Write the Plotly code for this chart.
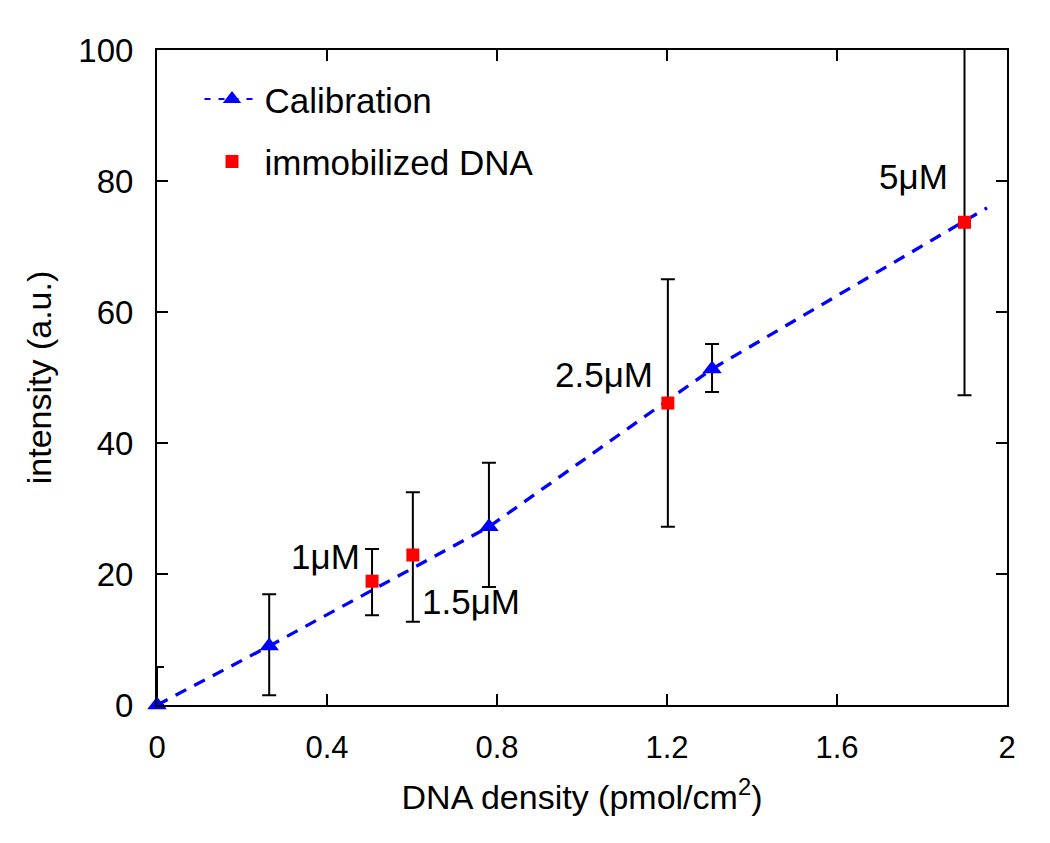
import plotly.graph_objects as go

# Calibration data
cal_x = [0.0, 0.264, 0.781, 1.306]
cal_y = [0.0, 9.0, 27.2, 51.3]
cal_err_plus = [5.8, 7.9, 9.8, 3.8]
cal_err_minus = [0.0, 7.5, 9.2, 3.5]
# calibration fit line (extends beyond last point)
line_x = [0.0, 0.264, 0.781, 1.306, 1.953]
line_y = [0.0, 9.0, 27.2, 51.3, 75.9]

# Immobilized DNA data
dna_x = [0.506, 0.602, 1.202, 1.900]
dna_y = [18.9, 22.9, 46.1, 73.7]
dna_err_plus = [4.9, 9.6, 18.9, 26.5]
dna_err_minus = [5.2, 10.2, 18.9, 26.4]
dna_labels = ["1μM", "1.5μM", "2.5μM", "5μM"]

x_ticks = [0, 0.4, 0.8, 1.2, 1.6, 2]
x_ticktext = ["0", "0.4", "0.8", "1.2", "1.6", "2"]
y_ticks = [0, 20, 40, 60, 80, 100]

FONT = "Liberation Sans, Arial, sans-serif"
BLUE = "#0000ff"
RED = "#ff0000"

fig = go.Figure()

fig.add_trace(go.Scatter(
    x=line_x, y=line_y, mode="lines",
    line=dict(color=BLUE, width=3.3, dash="12px,9px"),
    showlegend=False, hoverinfo="skip",
))
fig.add_trace(go.Scatter(
    x=cal_x, y=cal_y, mode="markers",
    marker=dict(symbol="triangle-up", size=17, color=BLUE),
    error_y=dict(type="data", symmetric=False, array=cal_err_plus,
                 arrayminus=cal_err_minus, color="black", thickness=2, width=7),
    showlegend=False, cliponaxis=False,
))
fig.add_trace(go.Scatter(
    x=dna_x, y=dna_y, mode="markers",
    marker=dict(symbol="square", size=13, color=RED),
    error_y=dict(type="data", symmetric=False, array=dna_err_plus,
                 arrayminus=dna_err_minus, color="black", thickness=2, width=7),
    showlegend=False, cliponaxis=False,
))
# legend entries
fig.add_trace(go.Scatter(
    x=[None], y=[None], mode="lines+markers", name="Calibration", legendgroup="a",
    line=dict(color=BLUE, width=2, dash="6px,8px"),
    marker=dict(symbol="triangle-up", size=17, color=BLUE),
))
fig.add_trace(go.Scatter(
    x=[None], y=[None], mode="markers", name="immobilized DNA", legendgroup="b",
    marker=dict(symbol="square", size=13, color=RED),
))

label_shifts = [(-10, 25, "right"), (7, -46, "left"), (-13, 29, "right"), (-15, 46, "right")]
for x, y, t, (dx, dy, anc) in zip(dna_x, dna_y, dna_labels, label_shifts):
    fig.add_annotation(x=x, y=y, text=t, showarrow=False, xanchor=anc, yanchor="middle",
                       xshift=dx, yshift=dy, font=dict(family=FONT, size=35, color="black"))

axis_common = dict(showline=True, linecolor="black", linewidth=2, mirror="ticks",
                   ticks="inside", ticklen=11, tickwidth=2, tickcolor="black",
                   showgrid=False, zeroline=False)

fig.update_xaxes(range=[0, 2], tickvals=x_ticks, ticktext=x_ticktext,
                 tickfont=dict(family=FONT, size=31, color="black"),
                 ticklabelstandoff=14,
                 title=dict(text="DNA density (pmol/cm<sup>2</sup>)",
                            font=dict(family=FONT, size=34, color="black"), standoff=21),
                 **axis_common)
fig.update_yaxes(range=[0, 100], tickvals=y_ticks,
                 tickfont=dict(family=FONT, size=33, color="black"),
                 ticklabelstandoff=15,
                 title=dict(text="intensity (a.u.)",
                            font=dict(family=FONT, size=34, color="black"), standoff=16),
                 **axis_common)

fig.update_layout(
    width=1042, height=835,
    margin=dict(l=149, r=43, t=42, b=138),
    paper_bgcolor="white", plot_bgcolor="white",
    font=dict(family=FONT, color="black"),
    legend=dict(x=0.05, y=0.97, xanchor="left", yanchor="top",
                font=dict(family=FONT, size=35, color="black"),
                bgcolor="rgba(0,0,0,0)", borderwidth=0, itemwidth=55,
                tracegroupgap=14),
)

fig.write_html("out.html")
